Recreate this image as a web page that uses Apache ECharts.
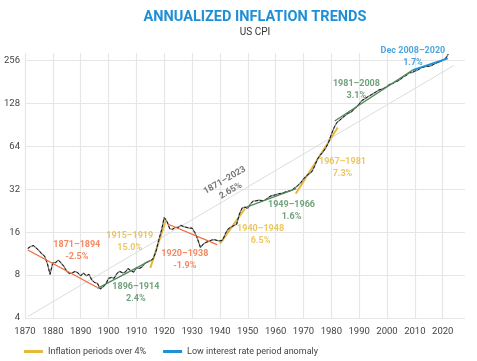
<!DOCTYPE html>
<html><head><meta charset="utf-8">
<script src="https://cdn.jsdelivr.net/npm/echarts@6/dist/echarts.min.js"></script>
<style>html,body{margin:0;padding:0;background:#fff}#c{width:477px;height:361px}</style>
</head><body><div id="c"></div>
<script>
const years = [];
for (let y = 1871; y <= 2022; y++) years.push(y);
const cpi = [
12.3,12.7,12.9,12.4,11.9,11.3,10.9,9.7,8.1,9.8,
9.8,10.2,9.7,9.2,8.5,8.2,8.3,8.5,8.3,7.9,
8.3,7.9,8.1,7.4,7.1,7.0,6.4,6.6,6.9,7.6,
7.7,7.6,8.2,8.5,8.3,8.4,8.9,8.6,8.4,9.0,
8.9,9.1,9.7,9.9,10.1,10.4,11.7,14.0,16.5,20.3,
19.0,16.9,16.8,17.3,17.3,17.9,17.5,17.3,17.1,17.1,
15.9,14.3,12.5,13.2,13.6,13.8,14.1,14.2,14.0,13.9,
14.1,15.7,16.9,17.4,17.8,18.2,21.5,23.7,24.0,23.5,
25.4,26.5,26.6,26.9,26.7,26.8,27.6,28.6,29.0,29.3,
29.8,30.0,30.4,30.9,31.2,31.8,32.9,34.1,35.6,37.8,
39.8,41.1,42.6,46.6,52.1,55.6,58.5,62.5,68.3,77.8,
87.0,94.3,97.8,101.9,105.5,109.6,111.2,115.7,121.1,127.4,
134.6,138.1,142.6,146.2,150.3,154.4,159.1,161.6,164.3,168.8,
175.1,177.1,181.7,185.2,190.7,198.3,202.4,211.1,211.1,216.7,
220.2,226.7,230.3,233.9,233.7,236.9,242.8,247.9,251.7,258.0,
265.0,285.0
];
const xTicks = [1870,1880,1890,1900,1910,1920,1930,1940,1950,1960,1970,1980,1990,2000,2010,2020];
const yTicks = [4,8,16,32,64,128,256];

const redA = [[1871, 12.0], [1896, 6.55]];
const greenA = [[1896, 6.45], [1915, 10.1]];
const yellowA = [[1915, 9.0], [1920.5, 19.2]];
const redB = [[1921.4, 18.2], [1939, 13.1]];
const yellowB = [[1940, 13.3], [1949, 23.5]];
const greenB = [[1949.5, 24.0], [1967.4, 32.4]];
const yellowC = [[1967.2, 29.8], [1982.3, 87]];
const greenC = [[1981.2, 96.5], [2009.2, 220]];
const blueA = [[2009.2, 220], [2021.8, 266]];
const grayLong = [[1871, 4.1], [2024, 237]];

const labelYears = [1888.6, 1909.8, 1907.6, 1927.4, 1954.6, 1965.7, 1984.0, 1989.0, 2009.3, 1942.8];
const labelValues = [11.8, 6.0, 13.8, 10.3, 15.3, 22.5, 45.3, 161, 272, 34];
const labelTexts = ['1871–1894\n-2.5%','1896–1914\n2.4%','1915–1919\n15.0%','1920–1938\n-1.9%','1940–1948\n6.5%','1949–1966\n1.6%','1967–1981\n7.3%','1981–2008\n3.1%','Dec 2008–2020\n1.7%','1871–2023\n2.65%'];

const RED = '#f26b3a', GREEN = '#4e8a5c', YELLOW = '#e6b93a', BLUE = '#1f8fd6', GRAYT = '#555';
const labelColors = [RED, GREEN, YELLOW, RED, YELLOW, GREEN, YELLOW, GREEN, BLUE, GRAYT];
const labelRot = [0,0,0,0,0,0,0,0,0,30];

const FONT = 'Roboto, "Noto Sans", sans-serif';
const chart = echarts.init(document.getElementById('c'));

function seg(name, data, color, w, z) {
  return {name: name, type: 'line', data: data, symbol: 'none', silent: true, z: z || 3,
    lineStyle: {color: color, width: w}, itemStyle: {color: color}};
}
const cpiData = years.map((y, i) => [y, cpi[i]]);
const YN = 'Inflation periods over 4%', BN = 'Low interest rate period anomaly';

chart.setOption({
  animation: false,
  title: [
    {text: 'ANNUALIZED INFLATION TRENDS', left: 250, top: 5, textAlign: 'center',
     textStyle: {fontFamily: FONT, fontSize: 14.5, fontWeight: 'bold', color: '#1e8fd5'}},
    {text: 'US CPI', left: 250, top: 22, textAlign: 'center',
     textStyle: {fontFamily: FONT, fontSize: 10, fontWeight: 'normal', color: '#333'}}
  ],
  legend: {left: 24, bottom: 5, padding: 0, itemWidth: 19, itemHeight: 3, itemGap: 17, icon: 'rect',
    data: [YN, BN], textStyle: {fontFamily: FONT, fontSize: 9, color: '#444'}},
  grid: {left: 25, right: 12, top: 53, bottom: 43},
  xAxis: {type: 'value', min: 1870, max: 2028, interval: 10,
    axisLine: {show: false}, axisTick: {show: false},
    axisLabel: {showMaxLabel: false, margin: 9, fontFamily: FONT, fontSize: 9.5, color: '#444',
      formatter: v => xTicks.indexOf(v) >= 0 ? String(v) : ''},
    splitLine: {show: true, showMaxLine: false, lineStyle: {color: '#e6e6e6', width: 1.2}}},
  yAxis: {type: 'log', logBase: 2, min: 4, max: 290,
    axisLine: {show: false}, axisTick: {show: false},
    axisLabel: {showMaxLabel: false, margin: 5, fontFamily: FONT, fontSize: 9.5, color: '#444',
      formatter: v => { const r = Math.round(v); return yTicks.indexOf(r) >= 0 && Math.abs(v - r) < 0.01 ? String(r) : ''; }},
    splitLine: {show: true, showMaxLine: false, lineStyle: {color: '#e6e6e6', width: 1.2}}},
  series: [
    seg('gray', grayLong, '#dcdcdc', 1, 2),
    seg(YN, yellowA, YELLOW, 2, 3),
    seg(YN, yellowB, YELLOW, 2, 3),
    seg(YN, yellowC, YELLOW, 2, 3),
    {name: 'cpi', type: 'line', data: cpiData, symbol: 'none', silent: true, z: 4,
      lineStyle: {color: '#8a8a8a', width: 1.3}},
    {name: 'cpi2', type: 'line', data: cpiData, symbol: 'none', silent: true, z: 5,
      lineStyle: {color: '#111', width: 1, type: [3, 2]}},
    seg('redA', redA, RED, 1.3, 6),
    seg('redB', redB, RED, 1.3, 6),
    seg('greenA', greenA, GREEN, 1.3, 6),
    seg('greenB', greenB, GREEN, 1.3, 6),
    seg('greenC', greenC, GREEN, 1.3, 6),
    seg(BN, blueA, BLUE, 1.8, 6),
    {name: 'labels', type: 'scatter', symbolSize: 0, silent: true, z: 10,
      data: labelYears.map((y, i) => ({value: [y, labelValues[i]],
        label: {show: true, position: 'inside', formatter: labelTexts[i], rotate: labelRot[i],
          align: 'center', verticalAlign: 'middle', lineHeight: 12,
          fontFamily: FONT, fontSize: 9, fontWeight: 'bold', color: labelColors[i]}}))}
  ]
});
</script></body></html>
